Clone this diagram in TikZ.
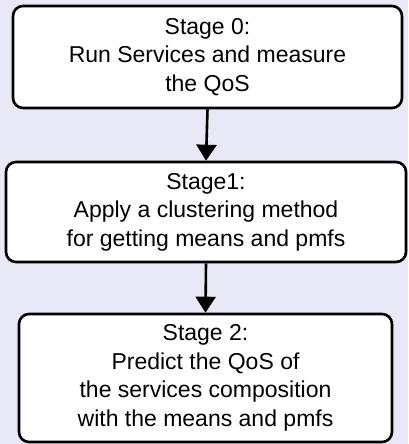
\documentclass[tikz,border=0pt]{standalone}
\usepackage{fontspec}
\setmainfont{Liberation Sans}
\usetikzlibrary{calc}
\usetikzlibrary{arrows.meta}

\definecolor{bgcol}{RGB}{232,232,246}

\tikzset{
    stagebox/.style={draw=black, line width=2.6pt, fill=white, rounded corners=10pt,
        align=center, inner sep=0pt, font=\fontsize{23}{28.5}\selectfont},
    flowarrow/.style={-{Triangle[length=16pt,width=20pt]}, line width=2.6pt}
}

\begin{document}
\begin{tikzpicture}[x=1pt,y=-1pt]
            % Background and size
            \fill[bgcol] (0,0) rectangle (408,444);
            \useasboundingbox (0,0) rectangle (408,444);

            % Draw the stages
            \node[stagebox, minimum width=389pt, minimum height=102pt] (S0) at (207.5,57)
                {Stage 0:\\Run Services and measure\\the QoS};
            \node[stagebox, minimum width=400pt, minimum height=100pt] (S1) at (206,212)
                {Stage1:\\Apply a clustering method\\for getting means and pmfs};
            \node[stagebox, minimum width=373pt, minimum height=128pt] (S2) at (205.5,378)
                {Stage 2:\\Predict the QoS of\\the services composition\\with the means and pmfs};

            % Draw arrows
            \draw[flowarrow] (S0.south) -- (S1.north);
            \draw[flowarrow] (S1.south) -- (S2.north);
\end{tikzpicture}
\end{document}
